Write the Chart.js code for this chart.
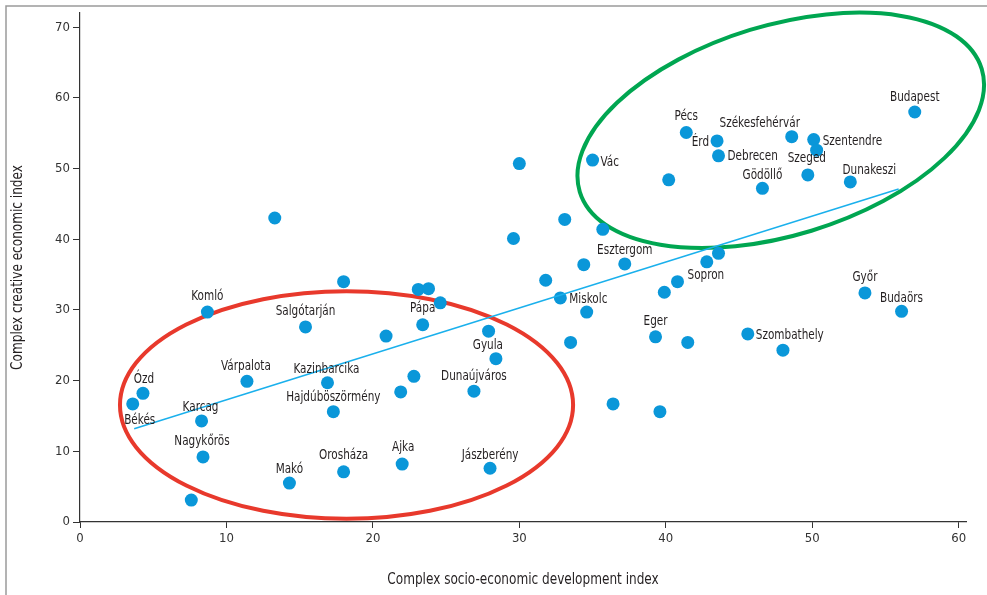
<!DOCTYPE html>
<html><head><meta charset="utf-8">
<script src="https://cdn.jsdelivr.net/npm/chart.js@4.4.1/dist/chart.umd.min.js"></script>
<style>html,body{margin:0;padding:0;background:#fff;}#wrap{width:987px;height:595px;position:relative;}</style>
</head><body><div id="wrap"><canvas id="c" width="987" height="595"></canvas></div>
<script>
// ---- DATA ----
const cityNames = ['Budapest','Pécs','Érd','Székesfehérvár','Szentendre','','Debrecen','Szeged','Gödöllő','Dunakeszi',
  'Vác','','','','','','','Esztergom','','',
  'Miskolc','','','Eger','','Szombathely','','Sopron','','',
  '','','','Győr','Budaörs','','','','','Pápa',
  'Salgótarján','','','Gyula','Kazinbarcika','','','Dunaújváros','Hajdúböszörmény','Orosháza',
  'Ajka','Jászberény','Makó','Komló','Ózd','Békés','Várpalota','Karcag','Nagykőrös',''];
const socioIndex = [57.0,41.4,43.5,48.6,50.1,50.3,43.6,49.7,46.6,52.6,
  35.0,40.2,30.0,13.3,33.1,29.6,35.7,37.2,34.4,31.8,
  32.8,34.6,33.5,39.3,41.5,45.6,48.0,40.8,39.9,42.8,
  43.6,36.4,39.6,53.6,56.1,18.0,23.1,23.8,24.6,23.4,
  15.4,20.9,27.9,28.4,16.9,22.8,21.9,26.9,17.3,18.0,
  22.0,28.0,14.3,8.7,4.3,3.6,11.4,8.3,8.4,7.6];
const creativeIndex = [58.0,55.1,53.9,54.5,54.1,52.6,51.8,49.1,47.2,48.1,
  51.2,48.4,50.7,43.0,42.8,40.1,41.4,36.5,36.4,34.2,
  31.7,29.7,25.4,26.2,25.4,26.6,24.3,34.0,32.5,36.8,
  38.0,16.7,15.6,32.4,29.8,34.0,32.9,33.0,31.0,27.9,
  27.6,26.3,27.0,23.1,19.7,20.6,18.4,18.5,15.6,7.1,
  8.2,7.6,5.5,29.7,18.2,16.7,19.9,14.3,9.2,3.1];
const trendX = [3.7, 55.9];
const trendY = [13.2, 47.1];
const xTickValues = [0,10,20,30,40,50,60];
const yTickValues = [0,10,20,30,40,50,60,70];
const xAxisTitle = 'Complex socio-economic development index';
const yAxisTitle = 'Complex creative economic index';
// highlighted groups (centre x, centre y, radius in x units, radius in y units, tilt in degrees)
const groupCenterX = [18.2, 47.85];
const groupCenterY = [16.55, 55.4];
const groupRadiusX = [15.47, 14.35];
const groupRadiusY = [16.1, 14.85];
const groupTilt = [0, -17];

// ---- STYLE ----
const FONT = "'Liberation Sans Narrow','DejaVu Sans Condensed','Roboto Condensed',sans-serif";
const TEXT_SQUEEZE = 0.83;
const groupColors = ['#e8392c', '#00a651'];
const labelPlacement = {
  'Budapest':[0,-15,'center'],'Pécs':[0,-16,'center'],'Érd':[-8,1,'right'],
  'Székesfehérvár':[-32,-13,'center'],'Szentendre':[9,2,'left'],'Debrecen':[9,1,'left'],
  'Szeged':[-1,-17,'center'],'Gödöllő':[0,-13,'center'],'Dunakeszi':[19,-12,'center'],
  'Vác':[8,2,'left'],'Esztergom':[0,-14,'center'],'Sopron':[10,-6,'left'],
  'Miskolc':[9,1,'left'],'Eger':[0,-15,'center'],'Szombathely':[8,1,'left'],
  'Győr':[0,-16,'center'],'Budaörs':[0,-13,'center'],'Pápa':[0,-16,'center'],
  'Salgótarján':[0,-16,'center'],'Gyula':[-8,-13,'center'],'Kazinbarcika':[-1,-13,'center'],
  'Dunaújváros':[0,-15,'center'],'Hajdúböszörmény':[0,-14,'center'],'Orosháza':[0,-16,'center'],
  'Ajka':[1,-17,'center'],'Jászberény':[0,-13,'center'],'Makó':[0,-14,'center'],
  'Komló':[0,-16,'center'],'Ózd':[1,-14,'center'],'Békés':[7,16,'center'],
  'Várpalota':[-1,-15,'center'],'Karcag':[-1,-14,'center'],'Nagykőrös':[-1,-16,'center']
};

const points = socioIndex.map((x,i)=>({x:x, y:creativeIndex[i]}));
const trend = trendX.map((x,i)=>({x:x, y:trendY[i]}));

function squeezedText(ctx, text, x, y, rot, sx){
  ctx.save(); ctx.translate(x,y); if(rot) ctx.rotate(rot); ctx.scale(sx,1);
  ctx.fillText(text,0,0); ctx.restore();
}

const framePlugin = {
  id:'frame',
  beforeDraw(chart){
    const ctx = chart.ctx;
    ctx.save();
    ctx.fillStyle='#fff'; ctx.fillRect(0,0,chart.width,chart.height);
    ctx.strokeStyle='#9a9a9a'; ctx.lineWidth=1.5;
    ctx.beginPath(); ctx.moveTo(6,chart.height); ctx.lineTo(6,6); ctx.lineTo(chart.width,6); ctx.stroke();
    ctx.restore();
  },
  afterDraw(chart){
    const ctx = chart.ctx, a = chart.chartArea;
    ctx.save();
    ctx.font = '16px '+FONT; ctx.fillStyle = '#231f20'; ctx.textAlign='center'; ctx.textBaseline='middle';
    squeezedText(ctx, xAxisTitle, (a.left+a.right)/2, 580, 0, 0.84);
    squeezedText(ctx, yAxisTitle, 18, (a.top+a.bottom)/2, -Math.PI/2, 0.84);
    ctx.restore();
  }
};
const groupPlugin = {
  id:'groups',
  beforeDatasetsDraw(chart){
    const ctx = chart.ctx, xs = chart.scales.x, ys = chart.scales.y;
    ctx.save();
    groupCenterX.forEach((cx,i)=>{
      const px = xs.getPixelForValue(cx), py = ys.getPixelForValue(groupCenterY[i]);
      const rx = Math.abs(xs.getPixelForValue(cx+groupRadiusX[i]) - px);
      const ry = Math.abs(ys.getPixelForValue(groupCenterY[i]+groupRadiusY[i]) - py);
      ctx.beginPath();
      ctx.ellipse(px, py, rx, ry, groupTilt[i]*Math.PI/180, 0, Math.PI*2);
      ctx.strokeStyle = groupColors[i]; ctx.lineWidth = 4; ctx.stroke();
    });
    ctx.restore();
  }
};
const labelPlugin = {
  id:'cityLabels',
  afterDatasetsDraw(chart){
    const meta = chart.getDatasetMeta(1), ctx = chart.ctx;
    ctx.save();
    ctx.font = '14px '+FONT; ctx.fillStyle = '#231f20'; ctx.textBaseline = 'middle';
    meta.data.forEach((pt,i)=>{
      const name = cityNames[i]; if(!name) return;
      const p = labelPlacement[name] || [0,-15,'center'];
      ctx.textAlign = p[2];
      squeezedText(ctx, name, pt.x+p[0], pt.y+p[1], 0, TEXT_SQUEEZE);
    });
    ctx.restore();
  }
};

new Chart(document.getElementById('c'), {
  type:'scatter',
  data:{datasets:[
    {type:'line', data:trend, borderColor:'#1ab0ec', borderWidth:1.5, pointRadius:0, fill:false, tension:0},
    {data:points, backgroundColor:'#0a97d9', borderWidth:0, pointRadius:6.5, pointHoverRadius:6.5}
  ]},
  options:{
    responsive:false, animation:false, devicePixelRatio:1,
    layout:{padding:{top:13,right:21,bottom:0,left:0}},
    plugins:{legend:{display:false}, tooltip:{enabled:false}},
    scales:{
      x:{type:'linear', min:0, max:60.5,
        afterBuildTicks(s){ s.ticks = xTickValues.map(v=>({value:v})); },
        afterFit(s){ s.height = 73; },
        grid:{drawOnChartArea:false, drawTicks:true, tickLength:6, color:'#333'},
        border:{display:true, color:'#333', width:1.2},
        ticks:{font:{family:FONT,size:13}, color:'#333', padding:3, maxRotation:0},
        title:{display:false}
      },
      y:{type:'linear', min:0, max:72,
        afterBuildTicks(s){ s.ticks = yTickValues.map(v=>({value:v})); },
        afterFit(s){ s.width = 80; },
        grid:{drawOnChartArea:false, drawTicks:true, tickLength:7, color:'#333'},
        border:{display:true, color:'#333', width:1.2},
        ticks:{font:{family:FONT,size:13}, color:'#333', padding:3},
        title:{display:false}
      }
    }
  },
  plugins:[framePlugin, groupPlugin, labelPlugin]
});
</script></body></html>
